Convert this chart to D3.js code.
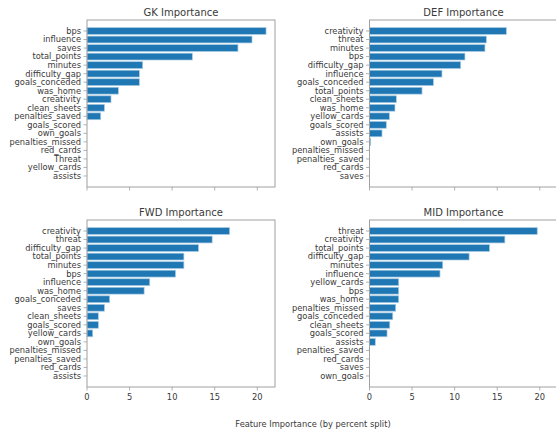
<!DOCTYPE html>
<html lang="en">
<head>
<meta charset="utf-8">
<script src="https://d3js.org/d3.v7.min.js"></script>
<style>
	body { margin: 0; background: white; }
	text { font-family: "DejaVu Sans", sans-serif; fill: #3a3a3a; }
</style>
<title>Feature Importance</title>
</head>
<body>
<script>
// feature importance per position (percent split)
var gkFeatures = ["bps","influence","saves","total_points","minutes","difficulty_gap","goals_conceded","was_home","creativity","clean_sheets","penalties_saved","goals_scored","own_goals","penalties_missed","red_cards","Threat","yellow_cards","assists"];
var gkValues = [21.03,19.38,17.73,12.37,6.54,6.15,6.15,3.68,2.82,2.04,1.61,0,0,0,0,0,0,0];

var defFeatures = ["creativity","threat","minutes","bps","difficulty_gap","influence","goals_conceded","total_points","clean_sheets","was_home","yellow_cards","goals_scored","assists","own_goals","penalties_missed","penalties_saved","red_cards","saves"];
var defValues = [16.07,13.72,13.56,11.21,10.71,8.51,7.5,6.17,3.15,2.99,2.33,1.97,1.47,0.14,0,0,0,0];

var fwdFeatures = ["creativity","threat","difficulty_gap","total_points","minutes","bps","influence","was_home","goals_conceded","saves","clean_sheets","goals_scored","yellow_cards","own_goals","penalties_missed","penalties_saved","red_cards","assists"];
var fwdValues = [16.75,14.7,13.1,11.38,11.38,10.4,7.37,6.71,2.66,2.04,1.33,1.33,0.67,0,0,0,0,0];

var midFeatures = ["threat","creativity","total_points","difficulty_gap","minutes","influence","yellow_cards","bps","was_home","penalties_missed","goals_conceded","clean_sheets","goals_scored","assists","penalties_saved","red_cards","saves","own_goals"];
var midValues = [19.7,15.9,14.1,11.7,8.6,8.28,3.43,3.43,3.43,3.08,2.73,2.38,2.06,0.68,0,0,0,0];

var xTicks = [0,5,10,15,20];

var w = 556, h = 436;
var svg = d3.select("body").append("svg")
	.attr("width", w)
	.attr("height", h);

var panels = [
	{title: "GK Importance", names: gkFeatures, vals: gkValues, x0: 87, y0: 20},
	{title: "DEF Importance", names: defFeatures, vals: defValues, x0: 369.5, y0: 20},
	{title: "FWD Importance", names: fwdFeatures, vals: fwdValues, x0: 87, y0: 220},
	{title: "MID Importance", names: midFeatures, vals: midValues, x0: 369.5, y0: 220}
];

var pw = 188, ph = 167;
var xMax = d3.max([gkValues, defValues, fwdValues, midValues], function(a) { return d3.max(a); }) * 1.05;

panels.forEach(function(p, pi) {
	var g = svg.append("g").attr("transform", "translate(" + p.x0 + "," + p.y0 + ")");

	var x = d3.scaleLinear().domain([0, xMax]).range([0, pw]);
	// matplotlib barh: positions 0..17, height 0.8, 5% margin
	var n = p.names.length;
	var lo = -0.4 - 0.05 * (n - 1 + 0.8), hi = n - 1 + 0.4 + 0.05 * (n - 1 + 0.8);
	var y = d3.scaleLinear().domain([lo, hi]).range([0, ph]);

	g.selectAll("rect.bar")
		.data(p.vals)
		.enter()
		.append("rect")
		.attr("class", "bar")
		.attr("x", x(0))
		.attr("y", function(d, i) { return y(i - 0.4); })
		.attr("width", function(d) { return x(d) - x(0); })
		.attr("height", y(0.4) - y(-0.4))
		.style("fill", "#1f77b4")
		.style("stroke", "#a9cbe3")
		.style("stroke-width", 0.7);

	// frame
	g.append("rect")
		.attr("x", 0).attr("y", 0)
		.attr("width", pw).attr("height", ph)
		.style("fill", "none")
		.style("stroke", "#a0a0a0")
		.style("stroke-width", 1);

	// y ticks
	var yt = g.selectAll("g.ytick")
		.data(p.names)
		.enter()
		.append("g")
		.attr("class", "ytick")
		.attr("transform", function(d, i) { return "translate(0," + y(i) + ")"; });
	yt.append("line")
		.attr("x1", -3.5).attr("x2", 0)
		.style("stroke", "#a0a0a0").style("stroke-width", 0.8);
	yt.append("text")
		.attr("x", -6)
		.attr("dy", "0.35em")
		.attr("text-anchor", "end")
		.style("font-size", "8.3px")
		.text(function(d) { return d; });

	// x ticks
	var xt = g.selectAll("g.xtick")
		.data(xTicks)
		.enter()
		.append("g")
		.attr("class", "xtick")
		.attr("transform", function(d) { return "translate(" + x(d) + "," + ph + ")"; });
	xt.append("line")
		.attr("y1", 0).attr("y2", 3.5)
		.style("stroke", "#a0a0a0").style("stroke-width", 0.8);
	if (pi >= 2) {
		xt.append("text")
			.attr("y", 13)
			.attr("text-anchor", "middle")
			.style("font-size", "8.3px")
			.text(function(d) { return d; });
	}

	g.append("text")
		.attr("x", pw / 2)
		.attr("y", -4.5)
		.attr("text-anchor", "middle")
		.style("font-size", "10px")
		.text(p.title);
});

svg.append("text")
	.attr("x", 313)
	.attr("y", 427)
	.attr("text-anchor", "middle")
	.style("font-size", "8.3px")
	.text("Feature Importance (by percent split)");
</script>
</body>
</html>
